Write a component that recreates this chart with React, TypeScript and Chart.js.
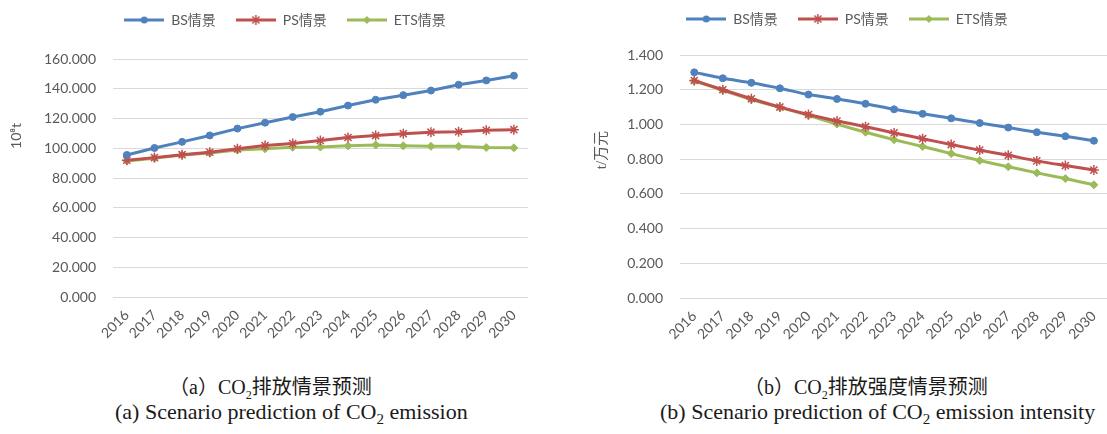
import React, { useEffect, useRef } from "react";
import { Chart, registerables } from "chart.js";
Chart.register(...registerables);

const years = ["2016", "2017", "2018", "2019", "2020", "2021", "2022", "2023", "2024", "2025", "2026", "2027", "2028", "2029", "2030"];
const seriesNames = ["BS情景", "PS情景", "ETS情景"];
const bsEmission = [95.5, 100.2, 104.3, 108.6, 113.2, 117.2, 121.0, 124.6, 128.7, 132.6, 135.7, 138.8, 142.7, 145.6, 148.8];
const psEmission = [91.9, 93.7, 95.7, 97.3, 99.6, 101.8, 103.2, 105.2, 107.2, 108.5, 109.8, 110.8, 111.1, 112.1, 112.5];
const etsEmission = [91.5, 93.3, 95.4, 96.8, 98.8, 99.6, 100.6, 100.8, 101.6, 102.2, 101.6, 101.3, 101.3, 100.5, 100.3];
const bsIntensity = [1.300, 1.266, 1.240, 1.208, 1.172, 1.147, 1.119, 1.087, 1.061, 1.035, 1.008, 0.982, 0.955, 0.932, 0.906];
const psIntensity = [1.253, 1.200, 1.148, 1.100, 1.057, 1.020, 0.987, 0.951, 0.918, 0.884, 0.852, 0.822, 0.790, 0.763, 0.737];
const etsIntensity = [1.250, 1.197, 1.143, 1.098, 1.052, 1.002, 0.955, 0.912, 0.873, 0.832, 0.792, 0.756, 0.721, 0.688, 0.652];

const COLORS = ["#4F81BD", "#C0504D", "#9BBB59"];
const STYLES = ["circle", "star", "rectRot"];
const RADII = [3.5, 5, 4];
const FONT = "Lato, 'Noto Sans CJK SC', sans-serif";

function legendImage(i: number) {
  const c = document.createElement("canvas");
  c.width = 40;
  c.height = 14;
  const ctx = c.getContext("2d")!;
  ctx.strokeStyle = COLORS[i];
  ctx.fillStyle = COLORS[i];
  ctx.lineWidth = 3;
  ctx.beginPath();
  ctx.moveTo(0, 7);
  ctx.lineTo(40, 7);
  ctx.stroke();
  const cx = 20, cy = 7, r = RADII[i];
  if (STYLES[i] === "circle") {
    ctx.beginPath();
    ctx.arc(cx, cy, r, 0, Math.PI * 2);
    ctx.fill();
  } else if (STYLES[i] === "rectRot") {
    ctx.beginPath();
    ctx.moveTo(cx, cy - r);
    ctx.lineTo(cx + r, cy);
    ctx.lineTo(cx, cy + r);
    ctx.lineTo(cx - r, cy);
    ctx.closePath();
    ctx.fill();
  } else {
    ctx.lineWidth = 1.5;
    ctx.beginPath();
    for (let k = 0; k < 4; k++) {
      const a = (k * Math.PI) / 4;
      ctx.moveTo(cx - r * Math.cos(a), cy - r * Math.sin(a));
      ctx.lineTo(cx + r * Math.cos(a), cy + r * Math.sin(a));
    }
    ctx.stroke();
  }
  return c;
}

type Cfg = {
  values: number[][];
  max: number;
  step: number;
  yWidth: number;
  xHeight: number;
  padTop: number;
  tension: number;
  title: string;
  titleFont: string;
  titleX: number;
  titleY: number;
  legendDx: number;
  legendDy: number;
  legendExtra: number;
};

function LineChart({ cfg, width, height }: { cfg: Cfg; width: number; height: number }) {
  const ref = useRef<HTMLCanvasElement>(null);
  useEffect(() => {
    const imgs = [0, 1, 2].map(legendImage);
    const titlePlugin = {
      id: "axisTitle",
      afterDraw(chart: any) {
        const ctx = chart.ctx;
        ctx.save();
        ctx.translate(cfg.titleX, cfg.titleY);
        ctx.rotate(-Math.PI / 2);
        ctx.font = cfg.titleFont;
        ctx.fillStyle = "#595959";
        ctx.textAlign = "center";
        ctx.textBaseline = "middle";
        ctx.fillText(cfg.title, 0, 0);
        ctx.restore();
      },
    };
    const legendShift = {
      id: "legendShift",
      afterInit(chart: any) {
        const lg = chart.legend;
        if (!lg) return;
        const of = lg.fit.bind(lg);
        lg.fit = function () {
          of();
          this.height += cfg.legendExtra;
        };
        const od = lg.draw.bind(lg);
        lg.draw = function () {
          const ctx = this.ctx;
          ctx.save();
          ctx.translate(cfg.legendDx, cfg.legendDy);
          od();
          ctx.restore();
        };
      },
    };
    const chart = new Chart(ref.current!, {
      type: "line",
      data: {
        labels: years,
        datasets: cfg.values.map((v, i) => ({
          label: seriesNames[i],
          data: v,
          borderColor: COLORS[i],
          backgroundColor: COLORS[i],
          borderWidth: 3,
          pointStyle: STYLES[i] as any,
          pointRadius: RADII[i],
          pointBorderWidth: i === 1 ? 1.5 : 1,
          pointBackgroundColor: COLORS[i],
          pointBorderColor: COLORS[i],
          tension: cfg.tension,
        })),
      },
      options: {
        animation: false,
        responsive: false,
        maintainAspectRatio: false,
        layout: { padding: { top: cfg.padTop, left: 0, right: 0, bottom: 0 } },
        plugins: {
          tooltip: { enabled: false },
          legend: {
            position: "top",
            labels: {
              usePointStyle: true,
              pointStyleWidth: 40,
              boxHeight: 14,
              padding: 20,
              color: "#595959",
              font: { family: FONT, size: 14 },
              generateLabels: () =>
                seriesNames.map((n, i) => ({
                  text: n,
                  fillStyle: COLORS[i],
                  strokeStyle: COLORS[i],
                  lineWidth: 0,
                  pointStyle: imgs[i] as any,
                  datasetIndex: i,
                  hidden: false,
                  fontColor: "#595959",
                })),
            },
          },
        },
        scales: {
          x: {
            offset: true,
            grid: { display: false, drawTicks: false },
            border: { display: true, color: "#D9D9D9", width: 1 },
            ticks: {
              color: "#595959",
              font: { family: FONT, size: 14 },
              minRotation: 45,
              maxRotation: 45,
              padding: 10,
              autoSkip: false,
            },
            afterFit: (s: any) => {
              s.height = cfg.xHeight;
            },
          },
          y: {
            min: 0,
            max: cfg.max,
            grid: { color: "#D9D9D9", lineWidth: 1, drawTicks: false },
            border: { display: false },
            ticks: {
              stepSize: cfg.step,
              color: "#595959",
              font: { family: FONT, size: 14 },
              padding: 17,
              callback: (v: any) => Number(v).toFixed(3),
            },
            afterFit: (s: any) => {
              s.width = cfg.yWidth;
            },
          },
        },
      },
      plugins: [titlePlugin, legendShift],
    });
    return () => chart.destroy();
  }, []);
  return <canvas ref={ref} width={width} height={height} style={{ width, height, display: "block" }} />;
}

const leftCfg: Cfg = {
  values: [bsEmission, psEmission, etsEmission],
  max: 160,
  step: 20,
  yWidth: 113,
  xHeight: 63,
  padTop: 4,
  tension: 0,
  title: "10⁸t",
  titleFont: "14px " + FONT,
  titleX: 16,
  titleY: 136,
  legendDx: 17,
  legendDy: -11,
  legendExtra: 11,
};

const rightCfg: Cfg = {
  values: [bsIntensity, psIntensity, etsIntensity],
  max: 1.4,
  step: 0.2,
  yWidth: 120,
  xHeight: 62,
  padTop: 2,
  tension: 0.25,
  title: "t/万元",
  titleFont: "15px 'Liberation Serif', 'Noto Sans CJK SC', serif",
  titleX: 42,
  titleY: 150,
  legendDx: 9,
  legendDy: -10,
  legendExtra: 9,
};

const capCn: React.CSSProperties = {
  position: "absolute",
  whiteSpace: "nowrap",
  fontFamily: "'Liberation Serif', 'Noto Sans CJK SC', serif",
  fontSize: 20,
  color: "#1a1a1a",
  lineHeight: "24px",
};
const capEn: React.CSSProperties = {
  position: "absolute",
  whiteSpace: "nowrap",
  fontFamily: "'Liberation Serif', serif",
  fontSize: 22,
  color: "#1a1a1a",
  lineHeight: "26px",
};

export default function App() {
  return (
    <div style={{ position: "fixed", left: 0, top: 0, width: 1107, height: 434, background: "#fff", overflow: "hidden" }}>
      <div style={{ position: "absolute", left: 0, top: 0 }}>
        <LineChart cfg={leftCfg} width={536} height={360} />
      </div>
      <div style={{ position: "absolute", left: 560, top: 0 }}>
        <LineChart cfg={rightCfg} width={556} height={360} />
      </div>
      <div style={{ ...capCn, left: 169, top: 375 }}>
        （a）CO<sub style={{ fontSize: 12 }}>2</sub>排放情景预测
      </div>
      <div style={{ ...capEn, left: 115, top: 399 }}>
        (a) Scenario prediction of CO<sub style={{ fontSize: 15 }}>2</sub> emission
      </div>
      <div style={{ ...capCn, left: 744, top: 375 }}>
        （b）CO<sub style={{ fontSize: 12 }}>2</sub>排放强度情景预测
      </div>
      <div style={{ ...capEn, left: 660, top: 399 }}>
        (b) Scenario prediction of CO<sub style={{ fontSize: 15 }}>2</sub> emission intensity
      </div>
    </div>
  );
}
